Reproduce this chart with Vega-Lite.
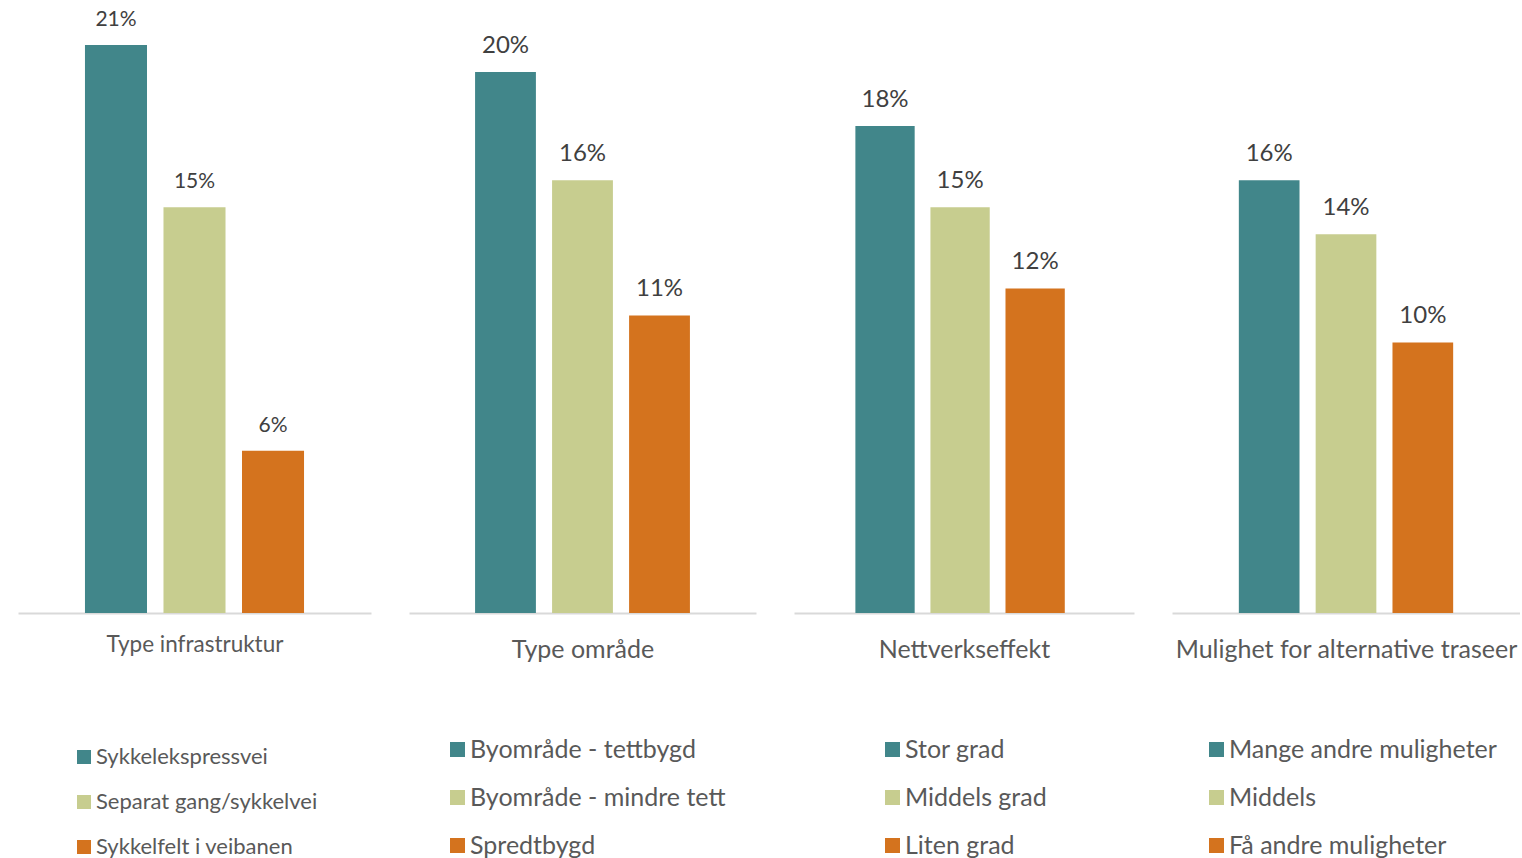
{
  "$schema": "https://vega.github.io/schema/vega-lite/v6.json",
  "padding": {"left": 18, "top": 0, "right": 0, "bottom": 0},
  "bounds": "flush",
  "spacing": 38,
  "config": {"font": "Lato", "view": {"stroke": null}, "legend": {"padding": 0}},
  "data": {"values": [
    {"panel": "Type infrastruktur", "order": 1, "item": "Sykkelekspressvei", "value": 0.21},
    {"panel": "Type infrastruktur", "order": 2, "item": "Separat gang/sykkelvei", "value": 0.15},
    {"panel": "Type infrastruktur", "order": 3, "item": "Sykkelfelt i veibanen", "value": 0.06},
    {"panel": "Type område", "order": 1, "item": "Byområde - tettbygd", "value": 0.20},
    {"panel": "Type område", "order": 2, "item": "Byområde - mindre tett", "value": 0.16},
    {"panel": "Type område", "order": 3, "item": "Spredtbygd", "value": 0.11},
    {"panel": "Nettverkseffekt", "order": 1, "item": "Stor grad", "value": 0.18},
    {"panel": "Nettverkseffekt", "order": 2, "item": "Middels grad", "value": 0.15},
    {"panel": "Nettverkseffekt", "order": 3, "item": "Liten grad", "value": 0.12},
    {"panel": "Mulighet for alternative traseer", "order": 1, "item": "Mange andre muligheter", "value": 0.16},
    {"panel": "Mulighet for alternative traseer", "order": 2, "item": "Middels", "value": 0.14},
    {"panel": "Mulighet for alternative traseer", "order": 3, "item": "Få andre muligheter", "value": 0.10}
  ]},
  "resolve": {"scale": {"color": "independent", "x": "independent", "y": "independent"}},
  "hconcat": [
    {
      "width": 353, "height": 613,
      "transform": [{"filter": "datum.panel === 'Type infrastruktur'"}],
      "encoding": {
        "x": {"field": "order", "type": "ordinal", "scale": {"paddingInner": 0.21, "paddingOuter": 0.853},
              "axis": {"title": "Type infrastruktur", "labels": false, "ticks": false, "domainColor": "#d9d9d9", "domainWidth": 2,
                       "titleFontSize": 22.5, "titleFontWeight": "normal", "titleColor": "#595959", "titlePadding": 20, "titleLimit": 600}},
        "y": {"field": "value", "type": "quantitative", "scale": {"domain": [0, 0.2266]}, "axis": null}
      },
      "layer": [
        {"mark": {"type": "bar"},
         "encoding": {"color": {"field": "item", "type": "nominal", "sort": ["Sykkelekspressvei", "Separat gang/sykkelvei", "Sykkelfelt i veibanen"],
            "scale": {"domain": ["Sykkelekspressvei", "Separat gang/sykkelvei", "Sykkelfelt i veibanen"], "range": ["#41868a", "#c7cd8f", "#d4731e"]},
            "legend": {"title": null, "orient": "none", "legendX": 55, "legendY": 746, "direction": "vertical", "symbolType": "square", "symbolSize": 196,
                       "symbolStrokeWidth": 0, "labelFontSize": 22, "labelColor": "#595959", "labelOffset": 1, "rowPadding": 23, "labelLimit": 600}}}},
        {"mark": {"type": "text", "dy": -25, "fontSize": 21, "color": "#404040"},
         "encoding": {"text": {"field": "value", "type": "quantitative", "format": ".0%"}}}
      ]
    },
    {
      "width": 347, "height": 613,
      "transform": [{"filter": "datum.panel === 'Type område'"}],
      "encoding": {
        "x": {"field": "order", "type": "ordinal", "scale": {"paddingInner": 0.21, "paddingOuter": 0.858},
              "axis": {"title": "Type område", "labels": false, "ticks": false, "domainColor": "#d9d9d9", "domainWidth": 2,
                       "titleFontSize": 25, "titleFontWeight": "normal", "titleColor": "#595959", "titlePadding": 24, "titleLimit": 600}},
        "y": {"field": "value", "type": "quantitative", "scale": {"domain": [0, 0.2266]}, "axis": null}
      },
      "layer": [
        {"mark": {"type": "bar"},
         "encoding": {"color": {"field": "item", "type": "nominal", "sort": ["Byområde - tettbygd", "Byområde - mindre tett", "Spredtbygd"],
            "scale": {"domain": ["Byområde - tettbygd", "Byområde - mindre tett", "Spredtbygd"], "range": ["#41868a", "#c7cd8f", "#d4731e"]},
            "legend": {"title": null, "orient": "none", "legendX": 36, "legendY": 737, "direction": "vertical", "symbolType": "square", "symbolSize": 225,
                       "symbolStrokeWidth": 0, "labelFontSize": 25, "labelColor": "#595959", "labelOffset": 0, "rowPadding": 22, "labelLimit": 600}}}},
        {"mark": {"type": "text", "dy": -26, "fontSize": 24, "color": "#404040"},
         "encoding": {"text": {"field": "value", "type": "quantitative", "format": ".0%"}}}
      ]
    },
    {
      "width": 340, "height": 613,
      "transform": [{"filter": "datum.panel === 'Nettverkseffekt'"}],
      "encoding": {
        "x": {"field": "order", "type": "ordinal", "scale": {"paddingInner": 0.21, "paddingOuter": 0.87, "align": 0.47},
              "axis": {"title": "Nettverkseffekt", "labels": false, "ticks": false, "domainColor": "#d9d9d9", "domainWidth": 2,
                       "titleFontSize": 25, "titleFontWeight": "normal", "titleColor": "#595959", "titlePadding": 24, "titleLimit": 600}},
        "y": {"field": "value", "type": "quantitative", "scale": {"domain": [0, 0.2266]}, "axis": null}
      },
      "layer": [
        {"mark": {"type": "bar"},
         "encoding": {"color": {"field": "item", "type": "nominal", "sort": ["Stor grad", "Middels grad", "Liten grad"],
            "scale": {"domain": ["Stor grad", "Middels grad", "Liten grad"], "range": ["#41868a", "#c7cd8f", "#d4731e"]},
            "legend": {"title": null, "orient": "none", "legendX": 86, "legendY": 737, "direction": "vertical", "symbolType": "square", "symbolSize": 225,
                       "symbolStrokeWidth": 0, "labelFontSize": 25, "labelColor": "#595959", "labelOffset": 0, "rowPadding": 22, "labelLimit": 600}}}},
        {"mark": {"type": "text", "dy": -26, "fontSize": 24, "color": "#404040"},
         "encoding": {"text": {"field": "value", "type": "quantitative", "format": ".0%"}}}
      ]
    },
    {
      "width": 348, "height": 613,
      "transform": [{"filter": "datum.panel === 'Mulighet for alternative traseer'"}],
      "encoding": {
        "x": {"field": "order", "type": "ordinal", "scale": {"paddingInner": 0.21, "paddingOuter": 0.87},
              "axis": {"title": "Mulighet for alternative traseer", "labels": false, "ticks": false, "domainColor": "#d9d9d9", "domainWidth": 2,
                       "titleFontSize": 25, "titleFontWeight": "normal", "titleColor": "#595959", "titlePadding": 24, "titleLimit": 600}},
        "y": {"field": "value", "type": "quantitative", "scale": {"domain": [0, 0.2266]}, "axis": null}
      },
      "layer": [
        {"mark": {"type": "bar"},
         "encoding": {"color": {"field": "item", "type": "nominal", "sort": ["Mange andre muligheter", "Middels", "Få andre muligheter"],
            "scale": {"domain": ["Mange andre muligheter", "Middels", "Få andre muligheter"], "range": ["#41868a", "#c7cd8f", "#d4731e"]},
            "legend": {"title": null, "orient": "none", "legendX": 32, "legendY": 737, "direction": "vertical", "symbolType": "square", "symbolSize": 225,
                       "symbolStrokeWidth": 0, "labelFontSize": 25, "labelColor": "#595959", "labelOffset": 0, "rowPadding": 22, "labelLimit": 600}}}},
        {"mark": {"type": "text", "dy": -26, "fontSize": 24, "color": "#404040"},
         "encoding": {"text": {"field": "value", "type": "quantitative", "format": ".0%"}}}
      ]
    }
  ]
}
